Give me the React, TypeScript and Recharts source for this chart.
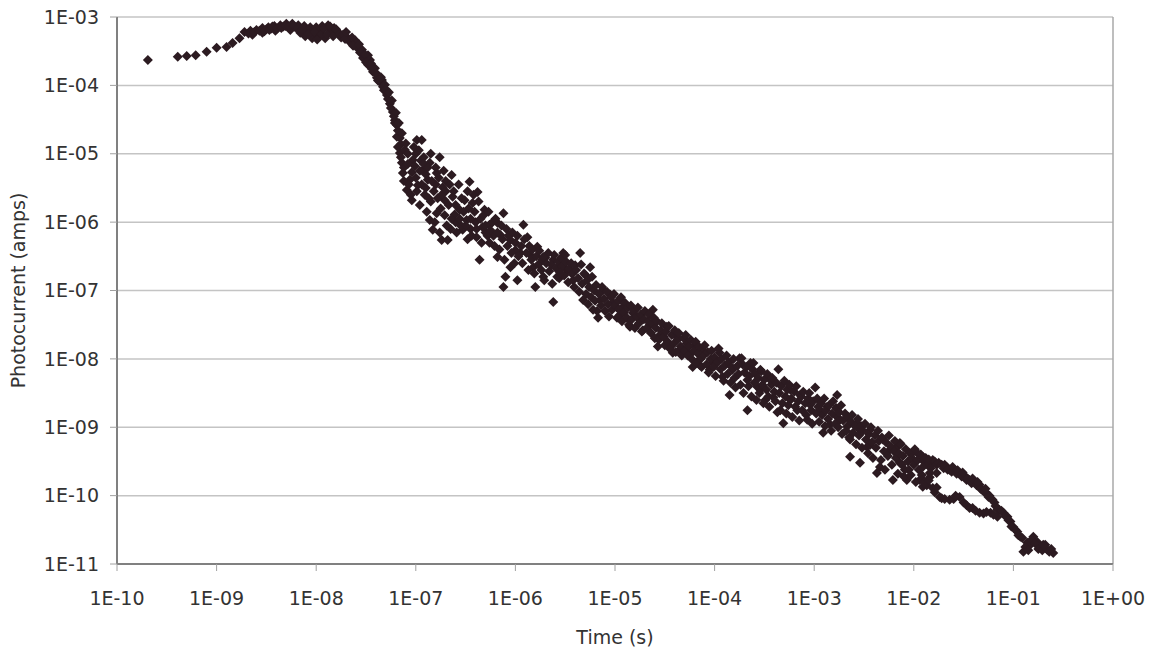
import { ScatterChart, Scatter, XAxis, YAxis, CartesianGrid, ReferenceLine } from "recharts";

// values are log10(time / s) and log10(current / A)
const riseSegment = [
  [-9.69, -3.63], [-9.39, -3.58], [-9.3, -3.57], [-9.21, -3.56], [-9.1, -3.51],
  [-9.0, -3.45], [-8.9, -3.44], [-8.84, -3.38], [-8.77, -3.31], [-8.72, -3.22],
];

const peakSegment = [
  [-8.66, -3.2], [-8.6, -3.19], [-8.54, -3.16], [-8.48, -3.15], [-8.42, -3.13],
  [-8.36, -3.12], [-8.3, -3.1], [-8.24, -3.1], [-8.18, -3.12], [-8.12, -3.13],
  [-8.06, -3.15], [-8.0, -3.15], [-7.94, -3.13], [-7.88, -3.12], [-7.82, -3.16],
  [-8.11, -3.28], [-8.04, -3.31], [-7.98, -3.28], [-7.91, -3.31], [-8.16, -3.23],
  [-8.26, -3.19], [-8.41, -3.2], [-8.54, -3.23], [-8.64, -3.26], [-7.78, -3.22],
  [-8.5, -3.18], [-8.45, -3.17], [-8.33, -3.14], [-8.21, -3.15], [-8.09, -3.19],
  [-7.96, -3.2], [-7.85, -3.19], [-7.75, -3.3],
  [-8.68, -3.24], [-8.62, -3.22], [-8.57, -3.2], [-8.52, -3.21], [-8.47, -3.19],
  [-8.44, -3.14], [-8.39, -3.17], [-8.35, -3.16], [-8.31, -3.13], [-8.27, -3.14],
  [-8.23, -3.13], [-8.19, -3.16], [-8.14, -3.18], [-8.08, -3.25], [-8.02, -3.22],
  [-7.99, -3.33], [-7.95, -3.25], [-7.92, -3.17], [-7.89, -3.26], [-7.86, -3.14],
  [-7.83, -3.28], [-7.8, -3.18], [-7.77, -3.25],
];

const dropSegment = [
  [-7.73, -3.26], [-7.66, -3.37], [-7.59, -3.45], [-7.53, -3.6], [-7.48, -3.7],
  [-7.43, -3.8], [-7.39, -3.89], [-7.36, -3.95], [-7.32, -4.07], [-7.29, -4.14],
  [-7.26, -4.27], [-7.23, -4.39], [-7.21, -4.51], [-7.19, -4.58], [-7.16, -4.77],
  [-7.61, -3.34], [-7.54, -3.48], [-7.46, -3.63], [-7.41, -3.75], [-7.48, -3.56],
  [-7.34, -3.92], [-7.31, -3.99], [-7.68, -3.31], [-7.19, -4.75], [-7.21, -4.55],
  [-7.71, -3.32], [-7.7, -3.22], [-7.64, -3.3], [-7.63, -3.42], [-7.57, -3.4],
  [-7.56, -3.52], [-7.51, -3.55], [-7.5, -3.66], [-7.45, -3.68], [-7.44, -3.76],
  [-7.4, -3.82], [-7.38, -3.93], [-7.35, -3.88], [-7.33, -4.02], [-7.3, -4.06],
  [-7.28, -4.2], [-7.27, -4.1], [-7.25, -4.33], [-7.24, -4.22], [-7.22, -4.45],
  [-7.2, -4.4], [-7.18, -4.66], [-7.17, -4.55], [-7.15, -4.86], [-7.14, -4.7],
];

const earlyCloud = [
  [-7.16, -4.99], [-7.14, -5.13], [-7.13, -5.28], [-7.09, -5.53], [-7.04, -5.68],
  [-6.99, -4.8], [-6.94, -4.8], [-7.03, -5.09], [-6.93, -5.24], [-6.86, -5.13],
  [-6.76, -5.05], [-6.79, -5.28], [-6.73, -5.49], [-6.64, -5.31], [-6.63, -5.63],
  [-6.86, -5.97], [-6.83, -6.11], [-6.74, -6.26], [-6.68, -6.26], [-6.79, -5.87],
  [-6.56, -5.82], [-6.46, -5.41], [-6.38, -5.56], [-6.43, -5.72], [-6.49, -5.97],
  [-6.53, -6.11], [-6.39, -6.22], [-6.33, -6.07], [-6.12, -5.87], [-6.18, -6.01],
  [-6.26, -6.3], [-6.36, -6.55], [-6.18, -6.51], [-6.1, -6.8], [-6.12, -6.95],
  [-6.05, -6.66], [-5.92, -6.04], [-5.88, -6.22], [-5.95, -6.45], [-5.98, -6.85],
  [-5.78, -6.36], [-5.82, -6.66], [-5.72, -6.8], [-5.8, -6.95], [-5.62, -6.55],
  [-5.52, -6.45], [-5.58, -6.8], [-5.62, -7.17], [-5.48, -6.7],
  [-7.11, -4.94], [-7.06, -5.38], [-6.98, -5.46], [-6.91, -5.6], [-6.71, -5.68],
  [-6.61, -5.89], [-6.51, -5.68], [-6.31, -5.82], [-6.26, -6.04], [-6.15, -6.19],
  [-6.05, -6.26], [-6.0, -6.41], [-5.85, -6.48], [-5.7, -6.52], [-6.96, -5.75],
  [-6.88, -5.38], [-7.04, -5.27], [-6.6, -6.0], [-6.55, -6.05], [-6.45, -6.1],
  [-6.4, -6.0], [-6.48, -6.25], [-6.3, -6.15], [-6.22, -6.2], [-6.65, -6.1],
  [-6.9, -5.3], [-6.8, -5.45], [-6.7, -5.55], [-6.95, -5.1], [-7.0, -5.0],
  [-6.85, -5.7], [-6.75, -5.8],
];

const earlyCloudDense = [
  [-7.18, -4.9], [-7.15, -5.05], [-7.12, -5.2], [-7.12, -5.4], [-7.1, -4.85],
  [-7.08, -5.0], [-7.08, -5.15], [-7.07, -5.45], [-7.05, -5.6], [-7.02, -4.9],
  [-7.01, -5.18], [-7.0, -5.35], [-6.99, -5.55], [-6.97, -4.95], [-6.96, -5.25],
  [-6.94, -5.45], [-6.92, -5.05], [-6.92, -5.15], [-6.9, -5.5], [-6.89, -5.85],
  [-6.88, -5.2], [-6.87, -5.65], [-6.85, -5.0], [-6.84, -5.4], [-6.82, -5.55],
  [-6.81, -6.0], [-6.8, -5.2], [-6.78, -5.65], [-6.77, -5.35], [-6.76, -6.15],
  [-6.74, -5.6], [-6.72, -5.25], [-6.71, -5.9], [-6.7, -5.4], [-6.69, -6.05],
  [-6.67, -5.75], [-6.66, -5.45], [-6.64, -5.95], [-6.62, -5.55], [-6.6, -5.75],
  [-6.59, -6.15], [-6.57, -5.45], [-6.56, -5.95], [-6.54, -5.65], [-6.52, -5.85],
  [-6.5, -6.05], [-6.48, -5.55], [-6.47, -5.8], [-6.45, -5.95], [-6.44, -6.2],
  [-6.42, -5.6], [-6.41, -5.85], [-6.39, -6.1], [-6.37, -5.7], [-6.35, -5.95],
  [-6.34, -6.3], [-6.32, -5.9], [-6.3, -6.05], [-6.28, -6.2], [-6.27, -5.85],
  [-6.25, -6.12], [-6.23, -6.0], [-6.21, -6.35], [-6.2, -5.95], [-6.18, -6.15],
  [-6.16, -6.4], [-6.14, -6.05], [-6.13, -6.25], [-6.11, -6.55], [-6.09, -6.1],
  [-6.08, -6.35], [-6.07, -6.2], [-6.04, -6.45], [-6.03, -6.15], [-6.01, -6.6],
  [-6.0, -6.3], [-5.98, -6.2], [-5.97, -6.5], [-5.94, -6.35], [-5.93, -6.6],
  [-5.91, -6.25], [-5.89, -6.45], [-5.87, -6.7], [-5.86, -6.35], [-5.84, -6.55],
  [-5.83, -6.4], [-5.81, -6.75], [-5.79, -6.5], [-5.77, -6.62], [-5.76, -6.42],
  [-5.74, -6.7], [-5.73, -6.55], [-5.71, -6.85], [-5.69, -6.6], [-5.67, -6.45],
  [-5.66, -6.72], [-5.64, -6.62], [-5.63, -6.9], [-5.61, -6.48], [-5.59, -6.68],
  [-5.57, -6.58], [-5.56, -6.82], [-5.54, -6.52], [-5.53, -6.65], [-5.51, -6.78],
  [-5.49, -6.58], [-5.47, -6.88], [-5.46, -6.68], [-5.44, -6.6], [-5.43, -6.76],
];

const midDecay = [
  [-5.72, -6.51], [-5.5, -6.48], [-5.35, -6.45], [-5.55, -6.74], [-5.42, -6.85],
  [-5.25, -6.66], [-5.32, -7.14], [-5.17, -7.4], [-5.22, -7.28], [-5.12, -6.99],
  [-5.02, -7.18], [-4.92, -7.24], [-4.82, -7.33], [-4.85, -7.53], [-4.72, -7.58],
  [-4.62, -7.28], [-4.57, -7.82], [-4.48, -7.53], [-4.38, -7.68], [-4.42, -7.91],
  [-4.28, -7.77], [-4.22, -8.12], [-4.12, -7.87], [-4.02, -8.06], [-3.95, -7.91],
  [-3.92, -8.26], [-3.82, -8.16], [-3.75, -7.99], [-3.64, -8.06], [-3.85, -8.53],
  [-3.57, -8.41], [-5.15, -7.14], [-5.05, -7.06], [-4.95, -7.36], [-4.75, -7.43],
  [-4.65, -7.5], [-4.55, -7.65], [-4.35, -7.87], [-4.25, -7.94], [-4.15, -8.09],
  [-4.05, -8.16], [-5.3, -6.77], [-5.4, -6.63], [-4.95, -7.14], [-4.5, -7.8],
  [-4.2, -7.8],
];

const midDecayDense = [
  [-5.41, -6.95], [-5.39, -6.7], [-5.37, -6.82], [-5.36, -7.02], [-5.34, -6.62],
  [-5.33, -6.9], [-5.31, -6.75], [-5.29, -7.05], [-5.28, -6.85], [-5.27, -7.2],
  [-5.26, -6.95], [-5.24, -7.1], [-5.23, -6.8], [-5.21, -7.0], [-5.2, -7.15],
  [-5.19, -6.92], [-5.18, -7.3], [-5.16, -7.05], [-5.14, -7.22], [-5.13, -6.95],
  [-5.11, -7.12], [-5.1, -7.3], [-5.08, -7.02], [-5.07, -7.2], [-5.06, -7.38],
  [-5.04, -7.1], [-5.03, -7.28], [-5.01, -7.05], [-5.0, -7.22], [-4.98, -7.4],
  [-4.97, -7.15], [-4.96, -7.28], [-4.94, -7.1], [-4.93, -7.45], [-4.91, -7.32],
  [-4.9, -7.18], [-4.88, -7.4], [-4.87, -7.25], [-4.86, -7.5], [-4.84, -7.22],
  [-4.83, -7.42], [-4.81, -7.3], [-4.8, -7.55], [-4.78, -7.38], [-4.77, -7.25],
  [-4.76, -7.48], [-4.74, -7.35], [-4.73, -7.6], [-4.71, -7.42], [-4.7, -7.3],
  [-4.68, -7.55], [-4.67, -7.45], [-4.66, -7.35], [-4.64, -7.62], [-4.63, -7.48],
  [-4.61, -7.4], [-4.6, -7.7], [-4.59, -7.55], [-4.58, -7.45], [-4.56, -7.72],
  [-4.54, -7.58], [-4.53, -7.48], [-4.51, -7.68], [-4.49, -7.6], [-4.47, -7.75],
  [-4.46, -7.52], [-4.45, -7.85], [-4.43, -7.65], [-4.41, -7.78], [-4.4, -7.58],
  [-4.39, -7.9], [-4.37, -7.72], [-4.36, -7.62], [-4.34, -7.82], [-4.33, -7.95],
  [-4.31, -7.7], [-4.3, -7.88], [-4.29, -7.65], [-4.27, -7.95], [-4.26, -7.82],
  [-4.24, -7.72], [-4.23, -8.0], [-4.21, -7.88], [-4.19, -7.75], [-4.18, -8.05],
  [-4.17, -7.92], [-4.16, -7.82], [-4.14, -8.0], [-4.13, -8.12], [-4.11, -7.95],
  [-4.1, -7.8], [-4.08, -8.08], [-4.07, -7.9], [-4.06, -8.2], [-4.04, -8.0],
  [-4.03, -7.88], [-4.01, -8.12], [-4.0, -7.98], [-3.99, -8.25], [-3.97, -8.05],
  [-3.96, -7.85], [-3.94, -8.15], [-3.93, -8.0], [-3.91, -8.32], [-3.9, -8.1],
  [-3.88, -7.95], [-3.87, -8.22], [-3.86, -8.05], [-3.84, -8.35], [-3.83, -8.12],
  [-3.81, -8.0], [-3.8, -8.28], [-3.79, -8.42], [-3.77, -8.1], [-3.76, -8.22],
  [-3.74, -8.38], [-3.72, -8.08], [-3.71, -8.5], [-3.7, -8.2], [-3.68, -8.12],
  [-3.66, -8.4], [-3.65, -8.25], [-3.63, -8.55], [-3.62, -8.15],
];

const lateDecay = [
  [-3.73, -7.99], [-3.61, -8.06], [-3.36, -8.15], [-2.99, -8.42], [-2.77, -8.53],
  [-3.67, -8.31], [-3.54, -8.45], [-3.67, -8.75], [-3.41, -8.56], [-3.24, -8.45],
  [-3.31, -8.94], [-3.17, -8.75], [-3.07, -8.89], [-2.87, -8.7], [-2.77, -8.85],
  [-2.91, -9.08], [-2.67, -8.99], [-2.57, -8.94], [-2.44, -9.04], [-2.64, -9.43],
  [-2.47, -9.29], [-2.31, -9.18], [-2.17, -9.29], [-2.34, -9.58], [-2.14, -9.52],
  [-2.01, -9.37], [-1.87, -9.48], [-2.21, -9.77], [-1.94, -9.77], [-1.77, -9.67],
  [-3.54, -8.16], [-3.44, -8.31], [-3.24, -8.6], [-3.14, -8.53], [-3.04, -8.67],
  [-2.94, -8.75], [-2.74, -8.89], [-2.54, -9.04], [-2.84, -8.96], [-2.64, -9.18],
  [-2.44, -9.26], [-2.24, -9.33], [-2.09, -9.62], [-3.49, -8.6], [-3.34, -8.75],
  [-2.14, -9.23], [-1.97, -9.37], [-2.54, -9.52], [-2.37, -9.67], [-2.07, -9.77],
];

const lateDecayDense = [
  [-3.6, -8.35], [-3.59, -8.22], [-3.58, -8.6], [-3.56, -8.28], [-3.55, -8.5],
  [-3.53, -8.18], [-3.52, -8.38], [-3.51, -8.65], [-3.5, -8.3], [-3.48, -8.45],
  [-3.47, -8.22], [-3.46, -8.55], [-3.45, -8.7], [-3.43, -8.38], [-3.42, -8.28],
  [-3.4, -8.48], [-3.39, -8.62], [-3.38, -8.35], [-3.37, -8.78], [-3.35, -8.5],
  [-3.33, -8.4], [-3.32, -8.65], [-3.3, -8.32], [-3.29, -8.55], [-3.28, -8.8],
  [-3.27, -8.45], [-3.26, -8.68], [-3.25, -8.38], [-3.23, -8.58], [-3.22, -8.85],
  [-3.2, -8.48], [-3.19, -8.7], [-3.18, -8.4], [-3.16, -8.62], [-3.15, -8.9],
  [-3.13, -8.55], [-3.12, -8.75], [-3.11, -8.48], [-3.09, -8.65], [-3.08, -8.82],
  [-3.06, -8.58], [-3.05, -8.5], [-3.03, -8.75], [-3.02, -8.95], [-3.01, -8.62],
  [-2.98, -8.8], [-2.97, -8.58], [-2.96, -8.7], [-2.95, -8.92], [-2.93, -8.65],
  [-2.92, -8.82], [-2.9, -8.58], [-2.89, -8.98], [-2.88, -8.75], [-2.86, -8.88],
  [-2.85, -8.68], [-2.83, -9.05], [-2.82, -8.8], [-2.81, -8.62], [-2.79, -8.95],
  [-2.78, -8.72], [-2.76, -9.0], [-2.75, -8.78], [-2.73, -8.68], [-2.72, -9.1],
  [-2.71, -8.9], [-2.69, -8.8], [-2.68, -9.05], [-2.66, -8.85], [-2.65, -9.15],
  [-2.63, -8.92], [-2.62, -8.82], [-2.61, -9.08], [-2.59, -8.98], [-2.58, -9.25],
  [-2.56, -8.88], [-2.55, -9.12], [-2.53, -8.98], [-2.52, -9.3], [-2.51, -9.05],
  [-2.49, -8.95], [-2.48, -9.18], [-2.46, -9.38], [-2.45, -9.1], [-2.43, -9.0],
  [-2.42, -9.22], [-2.41, -9.45], [-2.39, -9.12], [-2.38, -9.3], [-2.36, -9.05],
  [-2.35, -9.2], [-2.33, -9.48], [-2.32, -9.15], [-2.3, -9.35], [-2.29, -9.62],
  [-2.28, -9.22], [-2.26, -9.42], [-2.25, -9.12], [-2.23, -9.28], [-2.22, -9.55],
  [-2.2, -9.35], [-2.19, -9.2], [-2.18, -9.45], [-2.16, -9.68], [-2.15, -9.38],
  [-2.13, -9.25], [-2.12, -9.55], [-2.11, -9.42], [-2.1, -9.72], [-2.08, -9.32],
  [-2.06, -9.5], [-2.05, -9.62], [-2.04, -9.38], [-2.03, -9.7], [-2.02, -9.45],
  [-2.0, -9.55], [-1.99, -9.32], [-1.98, -9.8], [-1.96, -9.48], [-1.95, -9.62],
  [-1.93, -9.4], [-1.92, -9.7], [-1.9, -9.5],
];

const tailUpper = [
  [-1.91, -9.43], [-1.81, -9.48], [-1.67, -9.58], [-1.54, -9.67], [-1.44, -9.77],
  [-1.34, -9.84], [-1.27, -9.96], [-1.21, -10.06], [-1.14, -10.21], [-1.06, -10.31],
  [-1.0, -10.46], [-0.93, -10.6], [-0.86, -10.69], [-0.8, -10.6], [-0.73, -10.75],
  [-0.66, -10.79], [-0.6, -10.84], [-0.9, -10.82], [-1.59, -9.62], [-1.49, -9.71],
  [-1.39, -9.8], [-1.24, -10.0], [-1.1, -10.25], [-0.96, -10.53], [-1.03, -10.38],
  [-0.83, -10.72], [-0.76, -10.68], [-0.68, -10.72], [-1.81, -9.52], [-1.64, -9.62],
  [-1.47, -9.77], [-1.31, -9.92],
  [-1.88, -9.45], [-1.86, -9.55], [-1.85, -9.47], [-1.83, -9.6], [-1.79, -9.5],
  [-1.77, -9.55], [-1.75, -9.52], [-1.72, -9.55], [-1.7, -9.6], [-1.69, -9.55],
  [-1.66, -9.62], [-1.62, -9.65], [-1.61, -9.58], [-1.57, -9.68], [-1.56, -9.63],
  [-1.52, -9.72], [-1.51, -9.66], [-1.46, -9.75], [-1.42, -9.82], [-1.41, -9.75],
  [-1.37, -9.85], [-1.36, -9.8], [-1.33, -9.9], [-1.29, -9.95], [-1.28, -9.9],
  [-1.25, -10.02], [-1.22, -10.05], [-1.19, -10.1], [-1.18, -10.15], [-1.16, -10.2],
  [-1.12, -10.22], [-1.08, -10.3], [-1.05, -10.36], [-1.02, -10.45], [-0.98, -10.5],
  [-0.95, -10.58], [-0.91, -10.62], [-0.88, -10.75], [-0.85, -10.8], [-0.82, -10.65],
  [-0.78, -10.7], [-0.75, -10.78], [-0.71, -10.8], [-0.7, -10.72], [-0.64, -10.82],
  [-0.62, -10.78],
];

const tailLower = [
  [-1.91, -9.77], [-1.81, -9.89], [-1.74, -10.02], [-1.64, -10.06], [-1.54, -10.02],
  [-1.41, -10.18], [-1.34, -10.25], [-1.23, -10.25], [-1.16, -10.31], [-1.91, -9.58],
  [-1.84, -9.67], [-1.91, -9.87], [-1.84, -9.73],
  [-1.89, -9.8], [-1.87, -9.85], [-1.85, -9.78], [-1.79, -9.95], [-1.77, -9.88],
  [-1.72, -10.04], [-1.69, -10.05], [-1.6, -10.05], [-1.58, -10.0], [-1.5, -10.1],
  [-1.47, -10.14], [-1.44, -10.18], [-1.38, -10.22], [-1.3, -10.26], [-1.27, -10.24],
  [-1.2, -10.28],
];

const timeTicks = [1e-10, 1e-9, 1e-8, 1e-7, 1e-6, 1e-5, 1e-4, 1e-3, 1e-2, 1e-1, 1];
const currentTicks = [1e-11, 1e-10, 1e-9, 1e-8, 1e-7, 1e-6, 1e-5, 1e-4, 1e-3];

const points = [
  ...riseSegment, ...peakSegment, ...dropSegment, ...earlyCloud, ...earlyCloudDense,
  ...midDecay, ...midDecayDense, ...lateDecay, ...lateDecayDense, ...tailUpper, ...tailLower,
].map(([lt, li]) => ({ t: Math.pow(10, lt), i: Math.pow(10, li) }));

const FONT = "'DejaVu Sans', Verdana, sans-serif";
const MARKER = "#2c1b21";

function sci(v: number) {
  const e = Math.round(Math.log10(v));
  const sign = e < 0 ? "-" : "+";
  return `1E${sign}${String(Math.abs(e)).padStart(2, "0")}`;
}

function Diamond(props: any) {
  const { cx, cy } = props;
  if (cx == null || cy == null) return null;
  const r = 5;
  return <path d={`M${cx},${cy - r}L${cx + r},${cy}L${cx},${cy + r}L${cx - r},${cy}Z`} fill={MARKER} />;
}

function YTitle(props: any) {
  const vb = props.viewBox || { x: 0, y: 17, width: 117, height: 547 };
  const x = vb.x + 18;
  const y = vb.y + vb.height / 2;
  return (
    <text x={x} y={y} transform={`rotate(-90 ${x} ${y})`} textAnchor="middle" dominantBaseline="central"
      fill="#333" fontSize={19} fontFamily={FONT}>
      Photocurrent (amps)
    </text>
  );
}

function XTitle(props: any) {
  const vb = props.viewBox || { x: 117, y: 564, width: 996, height: 89 };
  const x = vb.x + vb.width / 2;
  const y = vb.y + 73;
  return (
    <text x={x} y={y} textAnchor="middle" dominantBaseline="central" fill="#333" fontSize={19} fontFamily={FONT}>
      Time (s)
    </text>
  );
}

export default function App() {
  return (
    <div style={{ position: "absolute", left: 0, top: 0, background: "#fff" }}>
      <ScatterChart width={1151} height={653} margin={{ top: 17, right: 38, bottom: 0, left: 0 }}>
        <CartesianGrid vertical={false} stroke="#c4c4c4" strokeWidth={1.5} />
        <XAxis
          type="number"
          dataKey="t"
          scale="log"
          domain={[1e-10, 1]}
          ticks={timeTicks}
          tickFormatter={sci}
          allowDataOverflow
          height={89}
          tickSize={7}
          tickMargin={21}
          axisLine={{ stroke: "#808080", strokeWidth: 2 }}
          tickLine={{ stroke: "#a0a0a0" }}
          tick={{ fill: "#333", fontSize: 19, fontFamily: FONT }}
          label={<XTitle />}
        />
        <YAxis
          type="number"
          dataKey="i"
          scale="log"
          domain={[1e-11, 1e-3]}
          ticks={currentTicks}
          tickFormatter={sci}
          allowDataOverflow
          width={117}
          tickSize={7}
          tickMargin={11}
          axisLine={{ stroke: "#808080", strokeWidth: 2 }}
          tickLine={{ stroke: "#a0a0a0" }}
          tick={{ fill: "#333", fontSize: 19, fontFamily: FONT }}
          label={<YTitle />}
        />
        <ReferenceLine x={1} stroke="#a8a8a8" strokeWidth={1.5} />
        <Scatter data={points} shape={<Diamond />} isAnimationActive={false} />
      </ScatterChart>
    </div>
  );
}
